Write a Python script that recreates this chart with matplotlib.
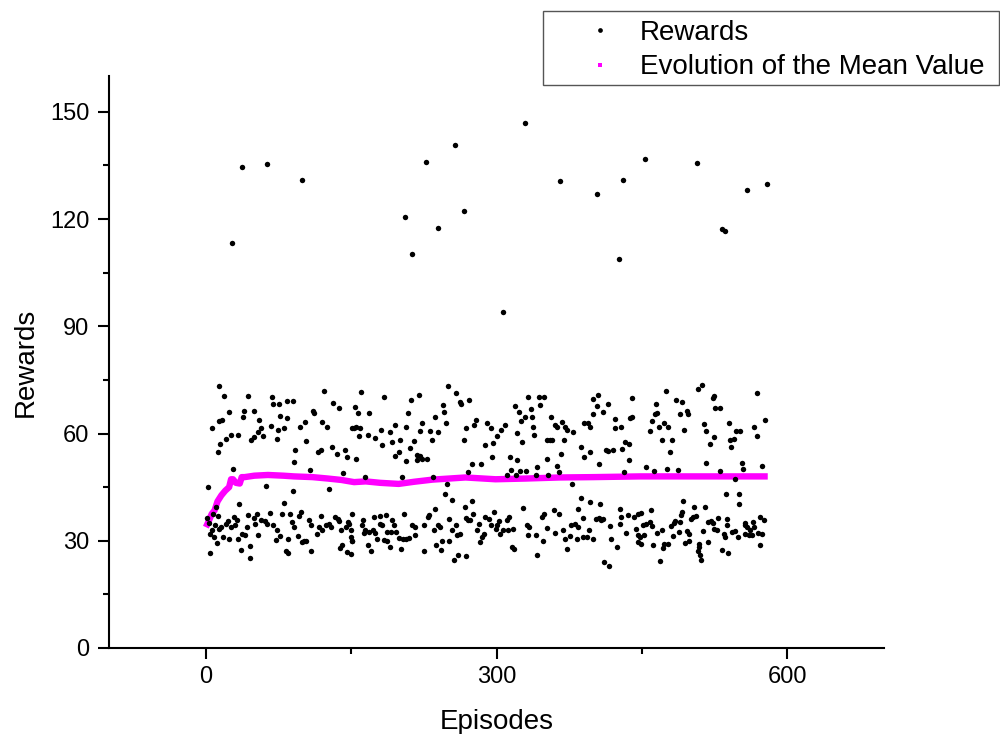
import matplotlib
matplotlib.use("Agg")
import matplotlib.pyplot as plt
from matplotlib.lines import Line2D
from matplotlib.patches import Rectangle
from matplotlib.ticker import MultipleLocator

plt.rcParams['font.family'] = ['Liberation Sans', 'DejaVu Sans']

# ---- data (episode, reward) ----
upper_ep = [14,19,43,68,69,75,84,90,122,131,137,24,39,38,50,55,77,84,111,112,14,17,6,67,74,81,97,102,120,125,151,54,57,59,50,47,33,26,21,15,73,103,12,92,91,116,119,130,135,144,146,107,28,62,90,127,142,2,34,81,10,
            160,184,154,157,168,153,155,159,158,167,175,181,182,190,195,192,200,199,195,207,209,212,220,211,215,207,218,221,223,218,228,221,223,231,233,237,240,245,246,248,250,258,262,263,272,279,277,268,266,275,284,271,290,294,300,296,288,295,155,164,202,234,249,247,254,236,267,275,
            333,344,349,345,319,323,336,329,325,337,309,305,321,338,339,326,352,355,357,356,360,362,368,371,373,379,370,387,390,394,396,400,405,404,400,410,415,422,422,429,438,440,440,397,390,413,415,420,430,433,437,437,406,314,321,352,367,362,342,315,324,330,311,320,341,353,365,432,378,387,396,407,427,327,359,365,384,
            475,508,512,465,485,491,523,525,526,531,569,464,466,489,497,498,460,458,468,473,477,494,514,516,525,520,471,481,479,540,547,551,545,541,542,566,569,577,454,463,476,487,516,531,553,554,574,546,537,550,550,492,504,515,459]
upper_val = [73.4,70.6,70.6,70.3,68.3,68.3,69,69,71.9,68.5,67,66.1,66.2,64.7,66.4,63.8,65,64.2,66.4,65.8,63.6,63.7,61.4,62.2,61,61.6,61.7,63.3,63.1,61.9,61.4,60.5,61.4,59.4,59.1,58.1,59.7,59.7,58.6,57.2,58.4,58,54.9,55.3,52.1,54.9,55.3,56.3,54.4,55.3,53.5,49.7,50.2,45.3,43.9,44.6,49,45,40.4,40.5,39.4,
             71.7,70.3,67.5,65.6,65.8,61.4,61.9,61.4,59.3,59.6,58.8,61.1,56.7,60.4,62.5,57.7,58.1,54.9,53.6,61.9,65.6,69.4,70.7,56,57.9,52.3,53.9,53.7,53,52.5,53,60.8,62.8,60.7,58.3,64.7,60.5,68,66.1,63,73.3,71.4,68.7,68.2,69.4,63.8,62.4,61.4,58.1,51.4,51.4,49.3,62.8,61.6,59.3,57.4,56.7,53.5,53,47.8,47.7,47.8,46,43,41.3,39,39.4,41.1,
             70.3,70.3,70.3,68,67.8,65.9,66.8,64.7,63.6,64.5,62.4,61,60.2,61.9,59.6,57.7,58.1,58.1,58.1,64.7,62.4,61.7,63.3,61.7,61.1,60.5,58.1,56.3,62.8,62.8,61.9,69.6,70.8,67.8,65.4,65.9,68.2,64,61.4,61.9,64.2,64.7,69.9,54.9,53.5,55.3,55.2,55.5,55.6,57.7,57.2,52.5,51.6,53.3,52.5,52.8,54.2,50.9,50.7,49.7,49.5,49.5,48.3,48.3,48.3,48.3,49.3,49.3,46,42,40.8,40.2,39,39.2,38.5,37.5,39,
             71.9,72.4,73.6,68.3,69.4,68.7,69.9,70.5,67.2,67.2,71.4,65.4,65.6,65.4,66.4,65.4,63.6,60.7,61.9,62.8,61.9,61,62.6,60.7,59.1,57.2,58.1,58.1,54.9,62.8,60.7,60.7,58.6,58.1,56.3,61.9,59.4,63.8,50.7,49.4,50.2,49.7,51.8,49.5,51.8,50.1,50.9,47.4,43.2,43,40.4,41.1,39.4,39.4,38.7]

lower_ep = [1,3,6,7,8,9,12,4,4,11,14,16,21,23,18,24,29,32,30,33,36,40,42,43,46,46,50,53,51,54,57,61,63,66,69,73,72,76,79,87,85,89,91,96,98,95,99,101,103,106,109,109,117,119,115,120,124,127,129,133,136,137,139,141,138,145,147,146,150,151,83,85,37,26,
            151,148,150,151,162,161,163,164,168,172,175,174,180,186,180,182,177,184,187,190,167,170,192,194,187,191,196,199,203,207,210,201,204,213,216,216,225,229,230,225,235,240,242,238,244,243,251,254,258,251,259,262,256,260,269,268,271,273,276,282,280,285,287,283,288,292,294,297,300,299,150,
            303,304,307,312,311,313,316,318,317,331,334,333,341,347,349,348,342,352,360,369,371,373,377,381,384,376,383,389,393,389,395,400,403,406,408,410,411,416,417,418,424,429,427,434,436,442,446,449,444,448,449,446,
            451,454,458,461,446,452,462,466,471,473,477,472,469,480,483,484,482,488,490,491,489,497,499,495,499,501,503,506,509,509,508,510,511,513,518,518,521,523,525,528,529,535,536,533,539,538,538,543,546,549,556,557,559,557,561,562,565,566,564,570,574,572,572,576]
lower_val = [36.5,35,33,37.5,31,34.5,36.8,31.9,26.5,29.4,33.3,33.8,34.7,35.5,31,30.5,36.6,35.7,34.3,30.5,27.5,31.5,33.8,37.1,28.5,25.2,36.3,37.5,34.6,31.6,35.7,35.4,34.7,37.7,34.3,33,30.3,31.3,37.4,37.4,30.5,35.2,33.8,37,38,31.4,29.6,30,29.8,35.7,34.3,27.2,33.8,36.9,32,32.9,34.3,34.7,33.8,36.6,36,35.4,32.9,28.9,27.9,33.8,35.2,26.8,32.9,30,27.2,26.5,31.9,33.8,
             37.5,34.7,31,29.9,35.7,34.3,32.1,32.9,32.4,32.9,32.1,36.6,36.8,37.1,34.7,34.3,30.5,30.2,29.9,28.2,28.9,27.1,35.7,34.3,32.4,32.4,32.4,30.7,30.5,30.5,30.7,27.7,37.5,34.3,33.8,31.7,27.2,36.6,37.1,34.3,32.9,34.3,33.8,28.9,30,27.4,36.1,32.9,34.3,30,31.5,32,24.6,26,25.8,36.3,35.7,35.7,37.5,34.6,32.9,31,31.9,29.6,36.6,36.1,34.3,38,34.3,33.3,26.3,
             35.5,31.9,32.9,32.9,35.7,36.6,28.2,27.7,33.3,34.3,33.8,31.5,31.5,36.6,37.5,30,26.1,33.6,32.1,32.9,30.5,27.7,34.3,34.7,33.8,31.2,30.5,31,31,36.4,32.9,30.5,36.1,36.4,35.7,36.1,24,23,34.1,30.5,28.2,36.6,34.7,32.1,37.1,36.6,37.5,37.7,33.3,31,29.1,29.6,
             34.3,34.7,35.2,34,31.5,31.5,28.7,32.2,32.9,29.1,29.1,27.9,24.3,34,35,35.5,31.3,32.4,37.1,38,35.2,32.7,31.9,29.4,30,36.1,36.6,36.8,29.1,28.2,27.2,26.1,24.6,32.6,29.6,35.2,35.5,34.9,33.3,33.1,36.3,31.9,31,27.5,26.6,36.1,34.3,32.4,32.6,31,34.3,34.9,33.8,31.9,31.5,32.9,35.2,33.8,31.5,32.1,31.9,28.9,36.6,35.7]

outlier_ep = [36.9,62.7,99.5,26.5,205.6,212.5,227.3,239.7,256.9,266.5,329.5,306.8,365.7,403.6,430.5,426.3,453.5,507.2,532.3,535.4,558.2,578.8]
outlier_val = [134.5,135.5,130.8,113.2,120.5,110.3,135.9,117.5,140.8,122.2,146.9,93.9,130.5,127.1,131,108.7,136.9,135.7,117.3,116.6,128,129.9]

mean_ep = [0,3,6,9,12,16,20,24,26,28,31,35,37,40,50,64,80,91,110,126,140,153,165,180,199,215,234,268,299,330,365,400,448,500,580]
mean_val = [33.8,35.5,37.5,38.5,41,42.7,44,45,47.2,47.2,46.2,46,47.8,47.8,48.2,48.4,48.2,48,47.8,47.4,47,46.4,46.6,46.2,45.9,46.5,47.1,47.7,47.2,47.4,47.7,47.8,48,48,48]

x_ticks = [0, 300, 600]
y_ticks = [0, 30, 60, 90, 120, 150]

episodes = upper_ep + lower_ep + outlier_ep
rewards = upper_val + lower_val + outlier_val

fig = plt.figure(figsize=(10, 7.34), dpi=100)
ax = fig.add_axes([0.109, 86/734, 0.775, 572/734])

ax.plot(mean_ep, mean_val, color='#FF00FF', lw=4.6, solid_capstyle='butt', zorder=2)
ax.plot(episodes, rewards, 'o', color='black', ms=3.9, mew=0, zorder=3)

ax.set_xlim(-100, 700)
ax.set_ylim(0, 160)
ax.set_xticks(x_ticks)
ax.set_yticks(y_ticks)
ax.xaxis.set_minor_locator(MultipleLocator(150))
ax.yaxis.set_minor_locator(MultipleLocator(15))
for s in ['top', 'right']:
    ax.spines[s].set_visible(False)
for s in ['left', 'bottom']:
    ax.spines[s].set_linewidth(1.5)
ax.tick_params(which='major', direction='out', length=8, width=1.5, labelsize=17, pad=5)
ax.tick_params(which='minor', direction='out', length=4.3, width=1.5)
ax.tick_params(axis='y', which='major', pad=6)

ax.set_xlabel('Episodes', fontsize=20, labelpad=15)
ax.set_ylabel('Rewards', fontsize=20, labelpad=8)

# legend frame (figure pixels 543..999 x 11..85)
fig.patches.append(Rectangle((0.543, 1 - 85/734), 0.456, 74/734, transform=fig.transFigure,
                             fill=False, edgecolor='#555555', lw=1.0))
handles = [Line2D([], [], ls='none', marker='o', ms=3.4, color='black', mew=0),
           Line2D([], [], ls='none', marker='s', ms=3.0, color='#FF00FF', mew=0)]
leg = fig.legend(handles, ['Rewards', 'Evolution of the Mean Value'],
                 loc='upper left', bbox_to_anchor=(0.572, 1 - 20/734), fontsize=20,
                 frameon=False, handlelength=2.0, handletextpad=0.44, borderpad=0,
                 labelspacing=0.3, borderaxespad=0)

fig.savefig('out.png', dpi=100)
